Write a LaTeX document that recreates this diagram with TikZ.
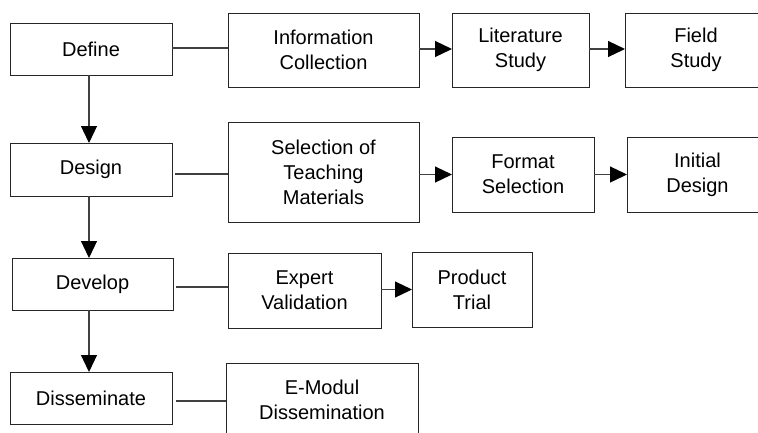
\documentclass[tikz,border=0pt]{standalone}
\usepackage{fontspec}
\setmainfont{Liberation Sans}
\usetikzlibrary{arrows.meta}

\begin{document}
\begin{tikzpicture}[
  x=1pt, y=-1pt,
  box/.style={draw=black!85, line width=1pt, align=center,
    inner sep=0pt, outer sep=0pt,
    font=\fontsize{20}{25}\selectfont},
  sz/.style 2 args={minimum width=#1pt, minimum height=#2pt},
  link/.style={draw=black!75, line width=1.2pt},
  arr/.style={draw=black!75, line width=1.2pt,
    -{Triangle[length=17pt,width=16pt,color=black,fill=black]}},
]
\useasboundingbox (0,0) rectangle (758,432);

% ---- phases (left column) ----
\node[box, sz={162}{52}] (define)  at (91,49)    {Define};
\node[box, sz={162}{53}] (design)  at (91,169.5) {Design};
\node[box, sz={161}{52}] (develop) at (92.5,284) {Develop};
\node[box, sz={162}{52}] (dissem)  at (91,398)   {Disseminate};

% ---- Define activities ----
\node[box, sz={191}{74}] (info)  at (323.5,50) {Information\\Collection};
\node[box, sz={137}{74}] (lit)   at (520.5,50) {Literature\\Study};
\node[box, sz={142}{74}] (field) at (696,50)   {Field\\Study};

% ---- Design activities ----
\node[box, sz={191}{100}] (sel)     at (323.5,172) {Selection of\\Teaching\\Materials};
\node[box, sz={142}{75}]  (format)  at (523,174.5) {Format\\Selection};
\node[box, sz={141}{75}]  (initial) at (697.5,174.5) {Initial\\Design};

% ---- Develop activities ----
\node[box, sz={153}{75}] (expert)  at (304.5,290.5) {Expert\\Validation};
\node[box, sz={120}{75}] (product) at (472,289.5)   {Product\\Trial};

% ---- Disseminate activity ----
\node[box, sz={192}{73}] (emodul) at (322,399.5) {E-Modul\\Dissemination};

% ---- flow between phases ----
\draw[arr] ([xshift=-2pt]define.south) -- ([xshift=-2pt]design.north);
\draw[arr] ([xshift=-2pt]design.south) -- ([xshift=-3.5pt]develop.north);
\draw[arr] ([xshift=-3.5pt]develop.south) -- ([xshift=-2pt]dissem.north);

% ---- phase to first activity ----
\coordinate (defout) at ([yshift=1pt]define.east);
\coordinate (selin)  at ([yshift=-2pt]sel.west);
\coordinate (devout) at ([yshift=-3pt]develop.east);
\coordinate (disout) at ([yshift=-3pt]dissem.east);
\draw[link] (defout) -- (info.west |- defout);
\draw[link, shorten <=3pt] (design.east |- selin) -- (selin);
\draw[link, shorten <=3pt] (devout) -- (expert.west |- devout);
\draw[link, shorten <=4pt] (disout) -- (emodul.west |- disout);

% ---- activity sequences ----
\draw[arr] ([yshift=1pt]info.east) -- ([yshift=1pt]lit.west);
\draw[arr] ([yshift=1pt]lit.east) -- ([yshift=1pt]field.west);
\draw[arr] (sel.east |- format.west) -- (format.west);
\draw[arr] (format.east) -- (initial.west);
\draw[arr] (expert.east |- product.west) -- (product.west);
\end{tikzpicture}
\end{document}
